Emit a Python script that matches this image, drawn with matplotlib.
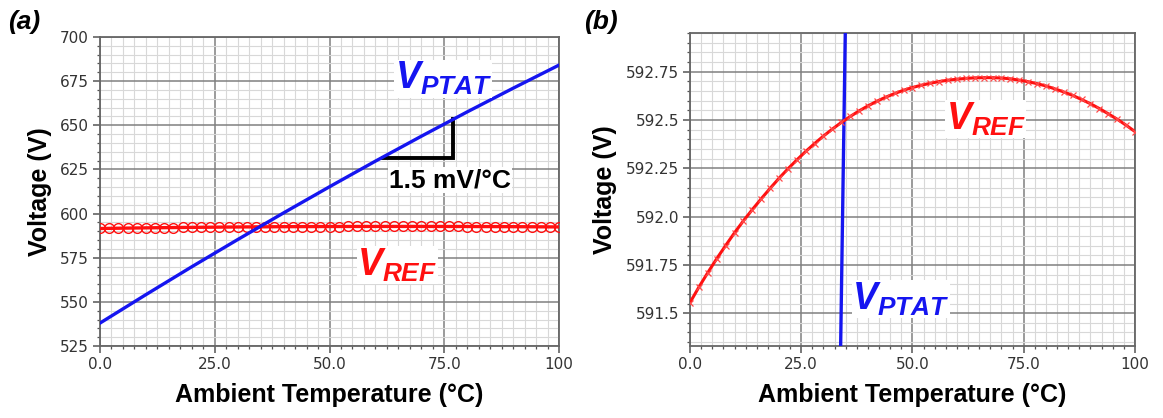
import matplotlib
matplotlib.use("Agg")
import matplotlib.pyplot as plt
from matplotlib.ticker import MultipleLocator, FixedLocator, FixedFormatter

plt.rcParams['mathtext.fontset'] = 'custom'
plt.rcParams['mathtext.it'] = 'Liberation Sans:italic:bold'
plt.rcParams['mathtext.rm'] = 'Liberation Sans:bold'
plt.rcParams['mathtext.bf'] = 'Liberation Sans:bold'

# Reference voltage vs ambient temperature (simulation points every 2 degC)
temp_ref = list(range(0, 101, 2))
v_ref = [591.555, 591.635, 591.710, 591.782, 591.850, 591.916, 591.978, 592.036,
         592.092, 592.146, 592.198, 592.247, 592.293, 592.337, 592.378, 592.417,
         592.453, 592.487, 592.518, 592.547, 592.573, 592.597, 592.618, 592.637,
         592.654, 592.668, 592.680, 592.690, 592.699, 592.706, 592.711, 592.715,
         592.718, 592.719, 592.719, 592.717, 592.713, 592.706, 592.698, 592.688,
         592.676, 592.661, 592.645, 592.627, 592.606, 592.584, 592.559, 592.532,
         592.504, 592.473, 592.440]

# PTAT voltage over the full range
temp_ptat = [0, 10, 20, 30, 40, 50, 60, 70, 80, 90, 100]
v_ptat = [538.0, 554.1, 569.9, 585.3, 600.4, 615.2, 629.7, 643.8, 657.6, 671.0, 684.1]

# PTAT voltage in the zoomed window around the crossing
temp_ptat_zoom = [33.77, 34.99]
v_ptat_zoom = [591.2, 593.1]

# Slope marker (1.5 mV/degC)
slope_T = [61.7, 76.9, 76.9]
slope_V = [631.7, 631.7, 653.7]

x_ticks = [0, 25, 50, 75, 100]
x_tick_labels = ["0.0", "25.0", "50.0", "75.0", "100"]
ya_ticks = [525, 550, 575, 600, 625, 650, 675, 700]
ya_tick_labels = ["525", "550", "575", "600", "625", "650", "675", "700"]
yb_ticks = [591.5, 591.75, 592.0, 592.25, 592.5, 592.75]
yb_tick_labels = ["591.5", "591.75", "592.0", "592.25", "592.5", "592.75"]

RED = "#ff1010"
BLUE = "#1515f0"
LABEL_FONT = "Liberation Sans"

fig = plt.figure(figsize=(11.63, 4.18), dpi=100)
ax_a = fig.add_axes([0.086, 0.1722, 0.3947, 0.7393])
ax_b = fig.add_axes([0.5933, 0.1722, 0.3826, 0.7488])


def style_axes(ax, yticks, ylabels, yminor):
    ax.set_xlim(0, 100)
    ax.xaxis.set_major_locator(FixedLocator(x_ticks))
    ax.xaxis.set_major_formatter(FixedFormatter(x_tick_labels))
    ax.xaxis.set_minor_locator(MultipleLocator(2.5))
    ax.yaxis.set_major_locator(FixedLocator(yticks))
    ax.yaxis.set_major_formatter(FixedFormatter(ylabels))
    ax.yaxis.set_minor_locator(MultipleLocator(yminor))
    ax.grid(which="major", color="#808080", lw=1.1)
    ax.grid(which="minor", color="#d8d8d8", lw=0.8)
    ax.set_axisbelow(True)
    for s in ax.spines.values():
        s.set_color("#666666")
        s.set_linewidth(1.3)
    ax.tick_params(which="major", length=5, width=1.1, color="#555555",
                   labelsize=11, labelcolor="#333333", pad=3)
    ax.tick_params(which="minor", length=2.5, width=0.9, color="#555555")
    for lab in ax.get_xticklabels() + ax.get_yticklabels():
        lab.set_family("DejaVu Sans")
    ax.set_xlabel("Ambient Temperature (°C)", fontsize=18, fontweight="bold",
                  family=LABEL_FONT, labelpad=8)
    ax.set_ylabel("Voltage (V)", fontsize=18, fontweight="bold",
                  family=LABEL_FONT, labelpad=6)


# (a) full temperature sweep
style_axes(ax_a, ya_ticks, ya_tick_labels, 5)
ax_a.set_ylim(525, 700)
ax_a.plot(temp_ref, v_ref, color=RED, lw=2.4, marker="o", ms=7,
          mfc="none", mec=RED, mew=1.0, zorder=3)
ax_a.plot(temp_ptat, v_ptat, color=BLUE, lw=2.4, zorder=4)
ax_a.plot(slope_T, slope_V, color="black", lw=2.8, solid_joinstyle="miter",
          zorder=3)
ax_a.text(63.0, 625.8, "1.5 mV/°C", fontsize=19, fontweight="bold",
          family=LABEL_FONT, ha="left", va="top", zorder=5,
          bbox=dict(fc="white", ec="none", pad=0.5))
ax_a.text(64.2, 670.5, r"$V_{PTAT}$", fontsize=27, color=BLUE,
          ha="left", va="baseline", zorder=5,
          bbox=dict(fc="white", ec="none", pad=0.3))
ax_a.text(56.0, 565.0, r"$V_{REF}$", fontsize=27, color=RED,
          ha="left", va="baseline", zorder=5,
          bbox=dict(fc="white", ec="none", pad=0.3))
fig.text(0.007, 0.975, "(a)", fontsize=19, fontweight="bold", style="italic",
         family=LABEL_FONT, ha="left", va="top")

# (b) zoom around the crossing
style_axes(ax_b, yb_ticks, yb_tick_labels, 0.05)
ax_b.set_ylim(591.33, 592.95)
ax_b.plot(temp_ptat_zoom, v_ptat_zoom, color=BLUE, lw=2.4, zorder=3)
ax_b.plot(temp_ref, v_ref, color=RED, lw=2.2, marker="x", ms=5,
          mec="#ff4a4a", mew=0.9, zorder=4)
ax_b.text(57.5, 592.45, r"$V_{REF}$", fontsize=27, color=RED,
          ha="left", va="baseline", zorder=5,
          bbox=dict(fc="white", ec="none", pad=0.3))
ax_b.text(36.5, 591.52, r"$V_{PTAT}$", fontsize=27, color=BLUE,
          ha="left", va="baseline", zorder=5,
          bbox=dict(fc="white", ec="none", pad=0.3))
fig.text(0.502, 0.975, "(b)", fontsize=19, fontweight="bold", style="italic",
         family=LABEL_FONT, ha="left", va="top")

fig.savefig("out.png", dpi=100)
